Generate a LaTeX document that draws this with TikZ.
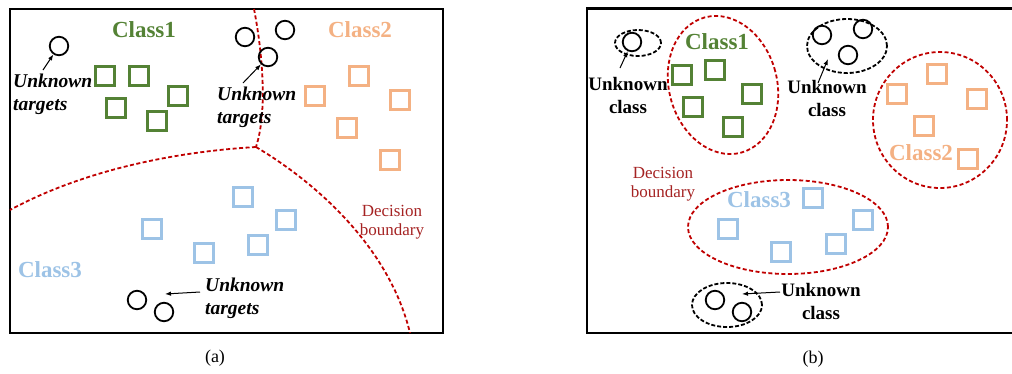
\documentclass[tikz,border=0pt]{standalone}
\usepackage{fontspec}
\setmainfont{Liberation Serif}
\usetikzlibrary{arrows.meta,shapes.geometric}
\definecolor{cgreen}{HTML}{548235}
\definecolor{corange}{HTML}{F4B183}
\definecolor{cblue}{HTML}{9DC3E6}
\definecolor{cred}{HTML}{C00000}
\definecolor{ctext}{RGB}{165,35,35}
\begin{document}
\begin{tikzpicture}[x=1pt,y=-1pt,
  frame/.style={draw=black,line width=2.4pt},
  sq/.style={draw,rectangle,minimum size=18.5pt,inner sep=0pt,line width=2.8pt},
  gsq/.style={sq,draw=cgreen},
  osq/.style={sq,draw=corange},
  bsq/.style={sq,draw=cblue},
  unk/.style={draw=black,circle,minimum size=18.5pt,inner sep=0pt,line width=1.8pt},
  clslbl/.style={font=\fontsize{23}{26}\selectfont\bfseries,inner sep=0pt},
  tgt/.style={font=\fontsize{19.5}{23}\selectfont\bfseries\itshape,align=left,anchor=west,inner sep=0pt},
  ucls/.style={font=\fontsize{19}{23}\selectfont\bfseries,align=center,inner sep=0pt},
  dbl/.style={font=\fontsize{17}{19.5}\selectfont,text=ctext,align=center,inner sep=0pt},
  bnd/.style={draw=cred,line width=1.8pt,dash pattern=on 4pt off 2.5pt},
  grp/.style={draw=black,line width=1.8pt,dash pattern=on 4pt off 2pt,ellipse,inner sep=0pt},
  cell/.style={draw=cred,line width=1.8pt,dash pattern=on 4pt off 2.5pt,ellipse,inner sep=0pt},
  arr/.style={draw=black,line width=1pt,-{Latex[length=6pt,width=4.5pt]}},
  captxt/.style={font=\fontsize{18}{20}\selectfont,inner sep=0pt}]
\useasboundingbox (0,0) rectangle (1012,373);
% ---------------- panel (a) ----------------
\draw[frame] (10,9) rectangle (443,333);
\draw[bnd] (254,9) .. controls (262,50) and (268,110) .. (256,147);
\draw[bnd] (256,147) .. controls (170,152) and (80,172) .. (10,210);
\draw[bnd] (256,147) .. controls (320,185) and (390,250) .. (410,333);
\node[clslbl,text=cgreen] (a1lbl) at (144,30) {Class1};
\node[clslbl,text=corange] (a2lbl) at (360,30) {Class2};
\node[clslbl,text=cblue] (a3lbl) at (50,270) {Class3};
\node[gsq] (ag1) at (105,76) {};
\node[gsq] (ag2) at (139,76) {};
\node[gsq] (ag3) at (116,108) {};
\node[gsq] (ag4) at (178,96) {};
\node[gsq] (ag5) at (157,121) {};
\node[osq] (ao1) at (359,76) {};
\node[osq] (ao2) at (315,96) {};
\node[osq] (ao3) at (400,100) {};
\node[osq] (ao4) at (347,128) {};
\node[osq] (ao5) at (390,160) {};
\node[bsq] (ab1) at (243,197) {};
\node[bsq] (ab2) at (152,229) {};
\node[bsq] (ab3) at (286,220) {};
\node[bsq] (ab4) at (204,253) {};
\node[bsq] (ab5) at (258,245) {};
\node[unk] (u1) at (59,46) {};
\node[unk] (u2) at (245,37) {};
\node[unk] (u3) at (285,30) {};
\node[unk] (u4) at (268,57) {};
\node[unk] (u5) at (137,300) {};
\node[unk] (u6) at (164,312) {};
\node[tgt] (ta1) at (13,94) {Unknown\\targets};
\node[tgt] (ta2) at (217,107) {Unknown\\targets};
\node[tgt] (ta3) at (205,298) {Unknown\\targets};
\coordinate (ta1s) at (43,70);
\coordinate (ta2s) at (243,83);
\coordinate (ta3s) at (200,292);
\coordinate (ta3e) at (165,294);
\draw[arr] (ta1s) -- (u1);
\draw[arr] (ta2s) -- (u4);
\draw[arr] (ta3s) -- (ta3e);
\node[dbl] (dba) at (392,222) {Decision\\boundary};
\node[captxt] (capa) at (215,358) {(a)};
% ---------------- panel (b) ----------------
\draw[frame] (587,8.5) rectangle (1016,333);
\node[cell,minimum width=108pt,minimum height=140pt,rotate=15] (cl1) at (723,85) {};
\node[cell,minimum width=134pt,minimum height=136pt] (cl2) at (940,120) {};
\node[cell,minimum width=200pt,minimum height=94pt] (cl3) at (788,227) {};
\node[grp,minimum width=46pt,minimum height=26pt] (e1) at (638,43) {};
\node[grp,minimum width=80pt,minimum height=54pt] (e2) at (847,46) {};
\node[grp,minimum width=70pt,minimum height=44pt] (e3) at (727,305) {};
\node[unk] (v1) at (632,42) {};
\node[unk] (v2) at (822,35) {};
\node[unk] (v3) at (863,29) {};
\node[unk] (v4) at (848,55) {};
\node[unk] (v5) at (715,300) {};
\node[unk] (v6) at (742,312) {};
\node[clslbl,text=cgreen] (b1lbl) at (717,42) {Class1};
\node[clslbl,text=corange] (b2lbl) at (921,153) {Class2};
\node[clslbl,text=cblue] (b3lbl) at (759,200) {Class3};
\node[gsq] (bg1) at (682,75) {};
\node[gsq] (bg2) at (715,70) {};
\node[gsq] (bg3) at (752,94) {};
\node[gsq] (bg4) at (693,107) {};
\node[gsq] (bg5) at (733,127) {};
\node[osq] (bo1) at (937,74) {};
\node[osq] (bo2) at (897,94) {};
\node[osq] (bo3) at (977,99) {};
\node[osq] (bo4) at (924,126) {};
\node[osq] (bo5) at (968,159) {};
\node[bsq] (bb1) at (813,198) {};
\node[bsq] (bb2) at (728,229) {};
\node[bsq] (bb3) at (863,220) {};
\node[bsq] (bb4) at (781,252) {};
\node[bsq] (bb5) at (836,244) {};
\node[ucls] (ub1) at (628,95) {Unknown\\class};
\node[ucls] (ub2) at (827,98) {Unknown\\class};
\node[ucls] (ub3) at (821,301) {Unknown\\class};
\coordinate (ub1s) at (620,68);
\coordinate (ub2s) at (818,83);
\coordinate (ub2e) at (828,59);
\coordinate (ub3s) at (780,292);
\coordinate (ub3e) at (742,294);
\draw[arr] (ub1s) -- (v1);
\draw[arr] (ub2s) -- (ub2e);
\draw[arr] (ub3s) -- (ub3e);
\node[dbl] (dbb) at (663,184) {Decision\\boundary};
\node[captxt] (capb) at (813,359) {(b)};
\end{tikzpicture}
\end{document}
